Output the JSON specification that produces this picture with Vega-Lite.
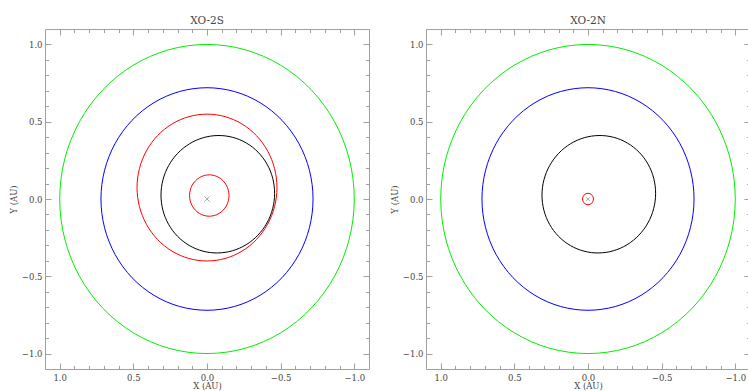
{
  "$schema": "https://vega.github.io/schema/vega-lite/v6.json",
  "padding": {"left": 8, "top": 15, "right": 0, "bottom": 0},
  "datasets": {
    "common": [
      {"o":"Earth","i":0,"x":1,"y":0},{"o":"Earth","i":1,"x":0.9659,"y":0.2588},{"o":"Earth","i":2,"x":0.866,"y":0.5},{"o":"Earth","i":3,"x":0.7071,"y":0.7071},{"o":"Earth","i":4,"x":0.5,"y":0.866},{"o":"Earth","i":5,"x":0.2588,"y":0.9659},{"o":"Earth","i":6,"x":0,"y":1},{"o":"Earth","i":7,"x":-0.2588,"y":0.9659},{"o":"Earth","i":8,"x":-0.5,"y":0.866},{"o":"Earth","i":9,"x":-0.7071,"y":0.7071},{"o":"Earth","i":10,"x":-0.866,"y":0.5},{"o":"Earth","i":11,"x":-0.9659,"y":0.2588},{"o":"Earth","i":12,"x":-1,"y":0},{"o":"Earth","i":13,"x":-0.9659,"y":-0.2588},{"o":"Earth","i":14,"x":-0.866,"y":-0.5},{"o":"Earth","i":15,"x":-0.7071,"y":-0.7071},{"o":"Earth","i":16,"x":-0.5,"y":-0.866},{"o":"Earth","i":17,"x":-0.2588,"y":-0.9659},{"o":"Earth","i":18,"x":0,"y":-1},{"o":"Earth","i":19,"x":0.2588,"y":-0.9659},{"o":"Earth","i":20,"x":0.5,"y":-0.866},{"o":"Earth","i":21,"x":0.7071,"y":-0.7071},{"o":"Earth","i":22,"x":0.866,"y":-0.5},{"o":"Earth","i":23,"x":0.9659,"y":-0.2588},
      {"o":"Venus","i":0,"x":0.72,"y":0},{"o":"Venus","i":1,"x":0.6954,"y":0.1863},{"o":"Venus","i":2,"x":0.6235,"y":0.36},{"o":"Venus","i":3,"x":0.5091,"y":0.5091},{"o":"Venus","i":4,"x":0.36,"y":0.6235},{"o":"Venus","i":5,"x":0.1863,"y":0.6954},{"o":"Venus","i":6,"x":0,"y":0.72},{"o":"Venus","i":7,"x":-0.1863,"y":0.6954},{"o":"Venus","i":8,"x":-0.36,"y":0.6235},{"o":"Venus","i":9,"x":-0.5091,"y":0.5091},{"o":"Venus","i":10,"x":-0.6235,"y":0.36},{"o":"Venus","i":11,"x":-0.6954,"y":0.1863},{"o":"Venus","i":12,"x":-0.72,"y":0},{"o":"Venus","i":13,"x":-0.6954,"y":-0.1863},{"o":"Venus","i":14,"x":-0.6235,"y":-0.36},{"o":"Venus","i":15,"x":-0.5091,"y":-0.5091},{"o":"Venus","i":16,"x":-0.36,"y":-0.6235},{"o":"Venus","i":17,"x":-0.1863,"y":-0.6954},{"o":"Venus","i":18,"x":0,"y":-0.72},{"o":"Venus","i":19,"x":0.1863,"y":-0.6954},{"o":"Venus","i":20,"x":0.36,"y":-0.6235},{"o":"Venus","i":21,"x":0.5091,"y":-0.5091},{"o":"Venus","i":22,"x":0.6235,"y":-0.36},{"o":"Venus","i":23,"x":0.6954,"y":-0.1863},
      {"o":"Mercury","i":0,"x":-0.4302,"y":0.1808},{"o":"Mercury","i":1,"x":-0.456,"y":0.0853},{"o":"Mercury","i":2,"x":-0.4558,"y":-0.0139},{"o":"Mercury","i":3,"x":-0.4295,"y":-0.11},{"o":"Mercury","i":4,"x":-0.3789,"y":-0.1966},{"o":"Mercury","i":5,"x":-0.3075,"y":-0.2677},{"o":"Mercury","i":6,"x":-0.2202,"y":-0.3184},{"o":"Mercury","i":7,"x":-0.1229,"y":-0.3453},{"o":"Mercury","i":8,"x":-0.0221,"y":-0.3466},{"o":"Mercury","i":9,"x":0.0751,"y":-0.3222},{"o":"Mercury","i":10,"x":0.1622,"y":-0.2737},{"o":"Mercury","i":11,"x":0.2332,"y":-0.2045},{"o":"Mercury","i":12,"x":0.2834,"y":-0.1192},{"o":"Mercury","i":13,"x":0.3092,"y":-0.0237},{"o":"Mercury","i":14,"x":0.309,"y":0.0755},{"o":"Mercury","i":15,"x":0.2827,"y":0.1716},{"o":"Mercury","i":16,"x":0.2321,"y":0.2582},{"o":"Mercury","i":17,"x":0.1607,"y":0.3293},{"o":"Mercury","i":18,"x":0.0734,"y":0.38},{"o":"Mercury","i":19,"x":-0.0239,"y":0.4069},{"o":"Mercury","i":20,"x":-0.1247,"y":0.4082},{"o":"Mercury","i":21,"x":-0.2219,"y":0.3838},{"o":"Mercury","i":22,"x":-0.309,"y":0.3353},{"o":"Mercury","i":23,"x":-0.38,"y":0.2661}
    ],
    "southPlanets": [
      {"o":"c","i":0,"x":0.475,"y":0.074},{"o":"c","i":1,"x":0.4588,"y":0.1969},{"o":"c","i":2,"x":0.4114,"y":0.3115},{"o":"c","i":3,"x":0.3359,"y":0.4099},{"o":"c","i":4,"x":0.2375,"y":0.4854},{"o":"c","i":5,"x":0.1229,"y":0.5328},{"o":"c","i":6,"x":0,"y":0.549},{"o":"c","i":7,"x":-0.1229,"y":0.5328},{"o":"c","i":8,"x":-0.2375,"y":0.4854},{"o":"c","i":9,"x":-0.3359,"y":0.4099},{"o":"c","i":10,"x":-0.4114,"y":0.3115},{"o":"c","i":11,"x":-0.4588,"y":0.1969},{"o":"c","i":12,"x":-0.475,"y":0.074},{"o":"c","i":13,"x":-0.4588,"y":-0.0489},{"o":"c","i":14,"x":-0.4114,"y":-0.1635},{"o":"c","i":15,"x":-0.3359,"y":-0.2619},{"o":"c","i":16,"x":-0.2375,"y":-0.3374},{"o":"c","i":17,"x":-0.1229,"y":-0.3848},{"o":"c","i":18,"x":0,"y":-0.401},{"o":"c","i":19,"x":0.1229,"y":-0.3848},{"o":"c","i":20,"x":0.2375,"y":-0.3374},{"o":"c","i":21,"x":0.3359,"y":-0.2619},{"o":"c","i":22,"x":0.4114,"y":-0.1635},{"o":"c","i":23,"x":0.4588,"y":-0.0489},
      {"o":"b","i":0,"x":0.1185,"y":0.0225},{"o":"b","i":1,"x":0.1005,"y":0.0895},{"o":"b","i":2,"x":0.0515,"y":0.1385},{"o":"b","i":3,"x":-0.0155,"y":0.1565},{"o":"b","i":4,"x":-0.0825,"y":0.1385},{"o":"b","i":5,"x":-0.1315,"y":0.0895},{"o":"b","i":6,"x":-0.1495,"y":0.0225},{"o":"b","i":7,"x":-0.1315,"y":-0.0445},{"o":"b","i":8,"x":-0.0825,"y":-0.0935},{"o":"b","i":9,"x":-0.0155,"y":-0.1115},{"o":"b","i":10,"x":0.0515,"y":-0.0935},{"o":"b","i":11,"x":0.1005,"y":-0.0445}
    ],
    "northPlanets": [
      {"o":"b","i":0,"x":0.037,"y":0},{"o":"b","i":1,"x":0.0262,"y":0.0262},{"o":"b","i":2,"x":0,"y":0.037},{"o":"b","i":3,"x":-0.0262,"y":0.0262},{"o":"b","i":4,"x":-0.037,"y":0},{"o":"b","i":5,"x":-0.0262,"y":-0.0262},{"o":"b","i":6,"x":0,"y":-0.037},{"o":"b","i":7,"x":0.0262,"y":-0.0262}
    ],
    "star": [{"x":0,"y":0}]
  },
  "spacing": 19,
  "hconcat": [
    {
      "title": "XO-2S",
      "width": 324,
      "height": 340,
      "layer": [
        {
          "data": {"name": "common"},
          "mark": {"type": "line", "interpolate": "cardinal-closed", "strokeWidth": 1},
          "encoding": {
            "x": {"field": "x", "type": "quantitative", "scale": {"domain": [-1.1, 1.1], "reverse": true, "nice": false, "zero": false},
                  "axis": {"orient": "bottom", "values": [-1, -0.5, 0, 0.5, 1], "format": ".1f", "tickSize": -6, "labelPadding": 10, "title": "X (AU)", "titlePadding": 0}},
            "y": {"field": "y", "type": "quantitative", "scale": {"domain": [-1.1, 1.1], "nice": false, "zero": false},
                  "axis": {"orient": "left", "values": [-1, -0.5, 0, 0.5, 1], "format": ".1f", "tickSize": -6, "labelPadding": 9, "title": "Y (AU)", "titlePadding": 3}},
            "color": {"field": "o", "type": "nominal", "scale": {"domain": ["Earth", "Venus", "Mercury", "b", "c"], "range": ["#00ee00", "#0000ff", "#000000", "#ff0000", "#ff0000"]}, "legend": null},
            "order": {"field": "i", "type": "quantitative"}
          }
        },
        {
          "data": {"name": "southPlanets"},
          "mark": {"type": "line", "interpolate": "cardinal-closed", "strokeWidth": 1},
          "encoding": {
            "x": {"field": "x", "type": "quantitative", "axis": null},
            "y": {"field": "y", "type": "quantitative", "axis": null},
            "color": {"field": "o", "type": "nominal", "legend": null},
            "order": {"field": "i", "type": "quantitative"}
          }
        },
        {
          "data": {"name": "star"},
          "mark": {"type": "point", "shape": "M-1,-1L1,1M-1,1L1,-1", "filled": false, "stroke": "#888888", "strokeWidth": 1, "size": 30},
          "encoding": {
            "x": {"field": "x", "type": "quantitative", "axis": {"orient": "bottom", "values": [-1, -0.9, -0.8, -0.7, -0.6, -0.5, -0.4, -0.3, -0.2, -0.1, 0, 0.1, 0.2, 0.3, 0.4, 0.5, 0.6, 0.7, 0.8, 0.9, 1], "tickSize": -3.5, "labels": false, "title": null}},
            "y": {"field": "y", "type": "quantitative", "axis": {"orient": "left", "values": [-1, -0.9, -0.8, -0.7, -0.6, -0.5, -0.4, -0.3, -0.2, -0.1, 0, 0.1, 0.2, 0.3, 0.4, 0.5, 0.6, 0.7, 0.8, 0.9, 1], "tickSize": -3.5, "labels": false, "title": null}}
          }
        },
        {
          "data": {"name": "star"},
          "mark": {"type": "point", "opacity": 0},
          "encoding": {
            "x": {"field": "x", "type": "quantitative", "axis": {"orient": "top", "values": [-1, -0.5, 0, 0.5, 1], "tickSize": -6, "labels": false, "title": null}},
            "y": {"field": "y", "type": "quantitative", "axis": {"orient": "right", "values": [-1, -0.5, 0, 0.5, 1], "tickSize": -6, "labels": false, "title": null}}
          }
        },
        {
          "data": {"name": "star"},
          "mark": {"type": "point", "opacity": 0},
          "encoding": {
            "x": {"field": "x", "type": "quantitative", "axis": {"orient": "top", "values": [-1, -0.9, -0.8, -0.7, -0.6, -0.5, -0.4, -0.3, -0.2, -0.1, 0, 0.1, 0.2, 0.3, 0.4, 0.5, 0.6, 0.7, 0.8, 0.9, 1], "tickSize": -3.5, "labels": false, "title": null}},
            "y": {"field": "y", "type": "quantitative", "axis": {"orient": "right", "values": [-1, -0.9, -0.8, -0.7, -0.6, -0.5, -0.4, -0.3, -0.2, -0.1, 0, 0.1, 0.2, 0.3, 0.4, 0.5, 0.6, 0.7, 0.8, 0.9, 1], "tickSize": -3.5, "labels": false, "title": null}}
          }
        }
      ],
      "resolve": {"axis": {"x": "independent", "y": "independent"}}
    },
    {
      "title": "XO-2N",
      "width": 324,
      "height": 340,
      "layer": [
        {
          "data": {"name": "common"},
          "mark": {"type": "line", "interpolate": "cardinal-closed", "strokeWidth": 1},
          "encoding": {
            "x": {"field": "x", "type": "quantitative", "scale": {"domain": [-1.1, 1.1], "reverse": true, "nice": false, "zero": false},
                  "axis": {"orient": "bottom", "values": [-1, -0.5, 0, 0.5, 1], "format": ".1f", "tickSize": -6, "labelPadding": 10, "title": "X (AU)", "titlePadding": 0}},
            "y": {"field": "y", "type": "quantitative", "scale": {"domain": [-1.1, 1.1], "nice": false, "zero": false},
                  "axis": {"orient": "left", "values": [-1, -0.5, 0, 0.5, 1], "format": ".1f", "tickSize": -6, "labelPadding": 9, "title": "Y (AU)", "titlePadding": 3}},
            "color": {"field": "o", "type": "nominal", "scale": {"domain": ["Earth", "Venus", "Mercury", "b", "c"], "range": ["#00ee00", "#0000ff", "#000000", "#ff0000", "#ff0000"]}, "legend": null},
            "order": {"field": "i", "type": "quantitative"}
          }
        },
        {
          "data": {"name": "northPlanets"},
          "mark": {"type": "line", "interpolate": "cardinal-closed", "strokeWidth": 1},
          "encoding": {
            "x": {"field": "x", "type": "quantitative", "axis": null},
            "y": {"field": "y", "type": "quantitative", "axis": null},
            "color": {"field": "o", "type": "nominal", "legend": null},
            "order": {"field": "i", "type": "quantitative"}
          }
        },
        {
          "data": {"name": "star"},
          "mark": {"type": "point", "shape": "M-1,-1L1,1M-1,1L1,-1", "filled": false, "stroke": "#888888", "strokeWidth": 1, "size": 14},
          "encoding": {
            "x": {"field": "x", "type": "quantitative", "axis": {"orient": "bottom", "values": [-1, -0.9, -0.8, -0.7, -0.6, -0.5, -0.4, -0.3, -0.2, -0.1, 0, 0.1, 0.2, 0.3, 0.4, 0.5, 0.6, 0.7, 0.8, 0.9, 1], "tickSize": -3.5, "labels": false, "title": null}},
            "y": {"field": "y", "type": "quantitative", "axis": {"orient": "left", "values": [-1, -0.9, -0.8, -0.7, -0.6, -0.5, -0.4, -0.3, -0.2, -0.1, 0, 0.1, 0.2, 0.3, 0.4, 0.5, 0.6, 0.7, 0.8, 0.9, 1], "tickSize": -3.5, "labels": false, "title": null}}
          }
        },
        {
          "data": {"name": "star"},
          "mark": {"type": "point", "opacity": 0},
          "encoding": {
            "x": {"field": "x", "type": "quantitative", "axis": {"orient": "top", "values": [-1, -0.5, 0, 0.5, 1], "tickSize": -6, "labels": false, "title": null}},
            "y": {"field": "y", "type": "quantitative", "axis": {"orient": "right", "values": [-1, -0.5, 0, 0.5, 1], "tickSize": -6, "labels": false, "title": null}}
          }
        },
        {
          "data": {"name": "star"},
          "mark": {"type": "point", "opacity": 0},
          "encoding": {
            "x": {"field": "x", "type": "quantitative", "axis": {"orient": "top", "values": [-1, -0.9, -0.8, -0.7, -0.6, -0.5, -0.4, -0.3, -0.2, -0.1, 0, 0.1, 0.2, 0.3, 0.4, 0.5, 0.6, 0.7, 0.8, 0.9, 1], "tickSize": -3.5, "labels": false, "title": null}},
            "y": {"field": "y", "type": "quantitative", "axis": {"orient": "right", "values": [-1, -0.9, -0.8, -0.7, -0.6, -0.5, -0.4, -0.3, -0.2, -0.1, 0, 0.1, 0.2, 0.3, 0.4, 0.5, 0.6, 0.7, 0.8, 0.9, 1], "tickSize": -3.5, "labels": false, "title": null}}
          }
        }
      ],
      "resolve": {"axis": {"x": "independent", "y": "independent"}}
    }
  ],
  "config": {
    "view": {"stroke": "#a0a0a0", "strokeWidth": 1},
    "axis": {"domain": false, "grid": false, "tickColor": "#a0a0a0", "tickWidth": 1, "labelFont": "DejaVu Serif", "labelFontSize": 8.5, "labelColor": "#444444", "titleFont": "DejaVu Serif", "titleFontSize": 8.5, "titleFontWeight": "normal", "titleColor": "#444444", "labelOverlap": false, "labelFlush": false},
    "title": {"font": "DejaVu Serif", "fontSize": 10.5, "fontWeight": "normal", "color": "#444444", "offset": 2}
  }
}
